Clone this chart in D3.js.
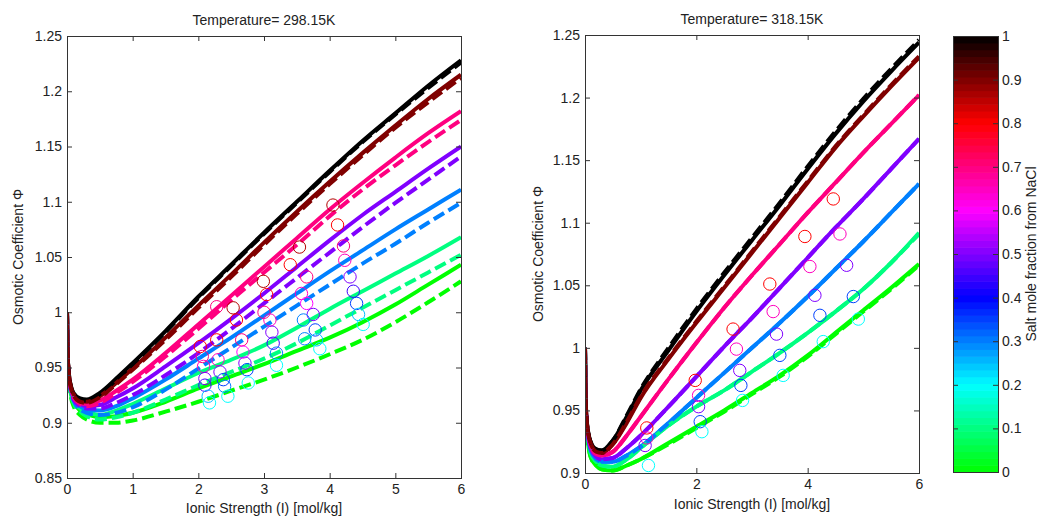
<!DOCTYPE html>
<html>
<head>
<meta charset="utf-8">
<script src="https://cdn.jsdelivr.net/npm/d3@7"></script>
<style>
  html, body { margin: 0; padding: 0; background: #fff; }
  svg { display: block; }
  text { font-family: "Liberation Sans", Arial, sans-serif; fill: #222; }
</style>
</head>
<body>
<svg id="chart" width="1038" height="517"></svg>
<script>
// ---------------- DATA ----------------
const ionicStrength = [0, 0.01, 0.03, 0.06, 0.1, 0.2, 0.3, 0.5, 0.75, 1, 1.5, 2, 2.5, 3, 3.5, 4, 4.5, 5, 5.5, 6];
const fractions = [0, 0.1, 0.3, 0.5, 0.7, 1.0, 0.9];   // salt mole fraction from NaCl (draw order)

// T = 298.15 K, model (solid)
const L_solid_0   = [1.000, 0.957, 0.937, 0.926, 0.919, 0.911, 0.908, 0.905, 0.906, 0.909, 0.919, 0.931, 0.942, 0.953, 0.965, 0.977, 0.991, 1.007, 1.025, 1.043];
const L_solid_01  = [1.000, 0.958, 0.938, 0.927, 0.920, 0.913, 0.910, 0.907, 0.911, 0.917, 0.931, 0.945, 0.957, 0.970, 0.986, 1.003, 1.019, 1.035, 1.051, 1.068];
const L_solid_03  = [1.000, 0.959, 0.940, 0.929, 0.922, 0.915, 0.912, 0.911, 0.915, 0.922, 0.939, 0.958, 0.977, 0.997, 1.017, 1.037, 1.056, 1.075, 1.093, 1.111];
const L_solid_05  = [1.000, 0.960, 0.941, 0.930, 0.923, 0.917, 0.915, 0.916, 0.923, 0.931, 0.951, 0.972, 0.994, 1.017, 1.041, 1.065, 1.088, 1.109, 1.130, 1.150];
const L_solid_07  = [1.000, 0.960, 0.942, 0.931, 0.924, 0.918, 0.917, 0.920, 0.929, 0.939, 0.963, 0.989, 1.015, 1.041, 1.067, 1.093, 1.117, 1.140, 1.162, 1.182];
const L_solid_10  = [1.000, 0.962, 0.944, 0.933, 0.927, 0.922, 0.921, 0.927, 0.940, 0.954, 0.983, 1.014, 1.043, 1.072, 1.100, 1.128, 1.155, 1.180, 1.205, 1.228];
const L_solid_09  = [1.000, 0.961, 0.943, 0.932, 0.926, 0.920, 0.919, 0.924, 0.936, 0.949, 0.977, 1.006, 1.034, 1.063, 1.091, 1.118, 1.144, 1.169, 1.193, 1.215];
// T = 298.15 K, model (dashed)
const L_dash_0    = [1.000, 0.956, 0.935, 0.923, 0.915, 0.907, 0.903, 0.900, 0.900, 0.902, 0.910, 0.919, 0.929, 0.939, 0.950, 0.962, 0.975, 0.991, 1.009, 1.028];
const L_dash_01   = [1.000, 0.957, 0.937, 0.925, 0.918, 0.910, 0.906, 0.903, 0.905, 0.909, 0.921, 0.934, 0.946, 0.958, 0.972, 0.988, 1.004, 1.020, 1.036, 1.052];
const L_dash_03   = [1.000, 0.958, 0.939, 0.928, 0.920, 0.912, 0.909, 0.907, 0.909, 0.914, 0.930, 0.949, 0.968, 0.987, 1.006, 1.025, 1.044, 1.062, 1.081, 1.099];
const L_dash_05   = [1.000, 0.959, 0.940, 0.929, 0.921, 0.915, 0.913, 0.913, 0.918, 0.925, 0.943, 0.963, 0.985, 1.008, 1.031, 1.054, 1.077, 1.099, 1.120, 1.141];
const L_dash_07   = [1.000, 0.960, 0.941, 0.930, 0.923, 0.917, 0.915, 0.918, 0.927, 0.937, 0.960, 0.985, 1.011, 1.036, 1.061, 1.087, 1.111, 1.133, 1.154, 1.174];
const L_dash_10   = [1.000, 0.962, 0.944, 0.933, 0.926, 0.921, 0.920, 0.926, 0.939, 0.953, 0.982, 1.013, 1.042, 1.071, 1.099, 1.127, 1.154, 1.179, 1.203, 1.226];
const L_dash_09   = [1.000, 0.961, 0.943, 0.932, 0.925, 0.919, 0.918, 0.923, 0.935, 0.948, 0.975, 1.004, 1.032, 1.061, 1.089, 1.116, 1.142, 1.167, 1.190, 1.212];

// T = 318.15 K, model (solid)
const R_solid_0   = [1.000, 0.956, 0.934, 0.922, 0.913, 0.906, 0.903, 0.902, 0.906, 0.911, 0.924, 0.937, 0.950, 0.964, 0.978, 0.994, 1.012, 1.030, 1.048, 1.067];
const R_solid_01  = [1.000, 0.957, 0.936, 0.925, 0.916, 0.909, 0.906, 0.905, 0.911, 0.920, 0.938, 0.953, 0.966, 0.981, 0.996, 1.012, 1.029, 1.047, 1.068, 1.092];
const R_solid_03  = [1.000, 0.958, 0.938, 0.927, 0.918, 0.911, 0.909, 0.909, 0.914, 0.921, 0.940, 0.960, 0.980, 1.000, 1.020, 1.041, 1.063, 1.085, 1.108, 1.131];
const R_solid_05  = [1.000, 0.959, 0.940, 0.928, 0.920, 0.913, 0.911, 0.912, 0.920, 0.930, 0.953, 0.977, 1.001, 1.024, 1.048, 1.072, 1.096, 1.119, 1.143, 1.167];
const R_solid_07  = [1.000, 0.960, 0.941, 0.930, 0.922, 0.915, 0.914, 0.917, 0.930, 0.945, 0.975, 1.004, 1.032, 1.058, 1.083, 1.108, 1.132, 1.156, 1.179, 1.202];
const R_solid_10  = [1.000, 0.962, 0.943, 0.932, 0.925, 0.919, 0.918, 0.926, 0.945, 0.966, 0.998, 1.029, 1.058, 1.086, 1.114, 1.143, 1.171, 1.197, 1.221, 1.244];
const R_solid_09  = [1.000, 0.961, 0.942, 0.931, 0.924, 0.917, 0.916, 0.923, 0.940, 0.960, 0.991, 1.020, 1.048, 1.076, 1.104, 1.132, 1.160, 1.185, 1.209, 1.232];
// T = 318.15 K, model (dashed)
const R_dash_0    = [1.000, 0.956, 0.934, 0.922, 0.913, 0.906, 0.903, 0.902, 0.906, 0.911, 0.923, 0.936, 0.949, 0.963, 0.977, 0.993, 1.011, 1.029, 1.047, 1.066];
const R_dash_01   = [1.000, 0.957, 0.936, 0.925, 0.916, 0.909, 0.906, 0.905, 0.911, 0.920, 0.938, 0.953, 0.966, 0.981, 0.996, 1.012, 1.029, 1.047, 1.068, 1.091];
const R_dash_03   = [1.000, 0.958, 0.938, 0.927, 0.918, 0.911, 0.909, 0.909, 0.914, 0.921, 0.940, 0.960, 0.980, 1.000, 1.020, 1.041, 1.063, 1.085, 1.108, 1.131];
const R_dash_05   = [1.000, 0.959, 0.940, 0.928, 0.920, 0.913, 0.911, 0.912, 0.920, 0.930, 0.953, 0.977, 1.001, 1.024, 1.048, 1.072, 1.096, 1.119, 1.143, 1.167];
const R_dash_07   = [1.000, 0.960, 0.941, 0.930, 0.922, 0.915, 0.914, 0.917, 0.930, 0.945, 0.975, 1.004, 1.032, 1.058, 1.083, 1.108, 1.132, 1.156, 1.179, 1.202];
const R_dash_10   = [1.000, 0.962, 0.943, 0.932, 0.925, 0.919, 0.918, 0.926, 0.946, 0.967, 1.000, 1.031, 1.060, 1.088, 1.116, 1.145, 1.173, 1.199, 1.223, 1.246];
const R_dash_09   = [1.000, 0.961, 0.942, 0.931, 0.924, 0.917, 0.916, 0.923, 0.941, 0.961, 0.992, 1.021, 1.049, 1.077, 1.105, 1.133, 1.161, 1.186, 1.210, 1.233];

// experimental points: ionic strength, osmotic coefficient, NaCl salt fraction
const L_expI    = [2.03, 2.06, 2.08, 2.10, 2.10, 2.15, 2.17,  2.28, 2.28, 2.30, 2.33, 2.38, 2.40, 2.45,  2.53, 2.58, 2.66, 2.68, 2.71, 2.74, 2.76,  2.99, 3.04, 3.00, 3.09, 3.12, 3.14, 3.19, 3.19,  3.54, 3.40, 3.65, 3.57, 3.65, 3.75, 3.60, 3.78, 3.62, 3.80, 3.85,  4.05, 4.12, 4.21, 4.23, 4.31, 4.36, 4.41, 4.44, 4.51];
const L_expPhi  = [0.969, 0.960, 0.951, 0.940, 0.934, 0.924, 0.918,  1.005, 0.975, 0.957, 0.946, 0.939, 0.933, 0.924,  1.004, 0.993, 0.975, 0.964, 0.954, 0.948, 0.936,  1.028, 1.016, 1.000, 0.993, 0.982, 0.972, 0.963, 0.952,  1.059, 1.043, 1.032, 1.017, 1.008, 0.998, 0.993, 0.984, 0.976, 0.975, 0.967,  1.097, 1.079, 1.060, 1.047, 1.032, 1.019, 1.008, 0.998, 0.989];
const L_expX    = [0.8, 0.7, 0.65, 0.5, 0.45, 0.25, 0.2,  0.7, 0.8, 0.65, 0.5, 0.35, 0.3, 0.2,  0.86, 0.8, 0.7, 0.6, 0.5, 0.35, 0.2,  0.86, 0.8, 0.7, 0.65, 0.5, 0.45, 0.3, 0.2,  0.86, 0.8, 0.7, 0.65, 0.6, 0.5, 0.3, 0.35, 0.3, 0.25, 0.2,  0.86, 0.8, 0.7, 0.65, 0.5, 0.45, 0.35, 0.25, 0.2];

const R_expI    = [4.46, 3.95, 4.58, 4.04, 4.70, 3.32, 4.13, 4.82, 3.38, 4.22, 4.91, 2.66, 3.44, 2.72, 3.50, 4.28, 2.78, 2.80, 3.56, 2.83, 1.98, 2.04, 2.04, 2.07, 2.10, 1.11, 1.11, 1.08, 1.14];
const R_expPhi  = [1.119, 1.089, 1.091, 1.065, 1.066, 1.051, 1.042, 1.041, 1.029, 1.026, 1.023, 1.015, 1.011, 0.999, 0.994, 1.005, 0.982, 0.970, 0.978, 0.958, 0.974, 0.962, 0.953, 0.941, 0.933, 0.936, 0.928, 0.922, 0.906];
const R_expX    = [0.8, 0.8, 0.65, 0.65, 0.5, 0.8, 0.5, 0.35, 0.65, 0.35, 0.2, 0.8, 0.5, 0.65, 0.35, 0.2, 0.5, 0.35, 0.2, 0.2, 0.8, 0.65, 0.5, 0.35, 0.2, 0.8, 0.65, 0.5, 0.2];

const L_yTicks = [0.85, 0.9, 0.95, 1, 1.05, 1.1, 1.15, 1.2, 1.25];
const L_yTickLabels = ["0.85", "0.9", "0.95", "1", "1.05", "1.1", "1.15", "1.2", "1.25"];
const L_xTicks = [0, 1, 2, 3, 4, 5, 6];
const R_yTicks = [0.9, 0.95, 1, 1.05, 1.1, 1.15, 1.2, 1.25];
const R_yTickLabels = ["0.9", "0.95", "1", "1.05", "1.1", "1.15", "1.2", "1.25"];
const R_xTicks = [0, 2, 4, 6];
const cbTicks = [0, 0.1, 0.2, 0.3, 0.4, 0.5, 0.6, 0.7, 0.8, 0.9, 1];
const cbTickLabels = ["0", "0.1", "0.2", "0.3", "0.4", "0.5", "0.6", "0.7", "0.8", "0.9", "1"];
const cmapStops = [0, 0.2, 0.4, 0.6, 0.8, 1.0];
const cmapColors = ["#00ff00", "#00ffff", "#0000ff", "#ff00ff", "#ff0000", "#000000"];

const titles = ["Temperature= 298.15K", "Temperature= 318.15K"];
const xLabel = "Ionic Strength (I) [mol/kg]";
const yLabel = "Osmotic Coefficient \u03A6";
const cbLabel = "Salt mole fraction from NaCl";

// ---------------- DRAW ----------------
const svg = d3.select("#chart");
const cmap = d3.scaleLinear().domain(cmapStops).range(cmapColors).interpolate(d3.interpolateRgb).clamp(true);
const FONT = 14;

const leftSolid = [L_solid_0, L_solid_01, L_solid_03, L_solid_05, L_solid_07, L_solid_10, L_solid_09];
const leftDash  = [L_dash_0, L_dash_01, L_dash_03, L_dash_05, L_dash_07, L_dash_10, L_dash_09];
const rightSolid = [R_solid_0, R_solid_01, R_solid_03, R_solid_05, R_solid_07, R_solid_10, R_solid_09];
const rightDash  = [R_dash_0, R_dash_01, R_dash_03, R_dash_05, R_dash_07, R_dash_10, R_dash_09];

function panel(cfg) {
  const x = d3.scaleLinear().domain([0, 6]).range([cfg.x0, cfg.x1]);
  const y = d3.scaleLinear().domain(cfg.yDom).range([cfg.y1, cfg.y0]);
  const g = svg.append("g");
  const clipId = "clip" + cfg.id;
  svg.append("clipPath").attr("id", clipId).append("rect")
    .attr("x", cfg.x0).attr("y", cfg.y0).attr("width", cfg.x1 - cfg.x0).attr("height", cfg.y1 - cfg.y0);

  const plot = g.append("g").attr("clip-path", `url(#${clipId})`);
  const line = d3.line().x((d, i) => x(ionicStrength[i])).y(d => y(d)).curve(d3.curveMonotoneX);

  fractions.forEach((f, k) => {
    plot.append("path").attr("d", line(cfg.solid[k]))
      .attr("fill", "none").attr("stroke", cmap(f)).attr("stroke-width", 4)
      .attr("stroke-linejoin", "round");
  });
  fractions.forEach((f, k) => {
    plot.append("path").attr("d", line(cfg.dash[k]))
      .attr("fill", "none").attr("stroke", cmap(f)).attr("stroke-width", 4)
      .attr("stroke-dasharray", "12,5");
  });
  // experimental points
  plot.selectAll("circle.exp").data(cfg.expI.map((v, i) => i)).join("circle")
    .attr("class", "exp")
    .attr("cx", i => x(cfg.expI[i])).attr("cy", i => y(cfg.expPhi[i]))
    .attr("r", 6.2).attr("fill", "none").attr("stroke", i => cmap(cfg.expX[i])).attr("stroke-width", 1);

  // axes (inward ticks, box)
  const axCol = "#333";
  const fmt = v => cfg.yLabels[cfg.yTicks.indexOf(v)];
  const axB = g.append("g").attr("transform", `translate(0,${cfg.y1})`)
    .call(d3.axisBottom(x).tickValues(cfg.xTicks).tickFormat(d3.format("d")).tickSizeInner(-5).tickSizeOuter(0).tickPadding(6));
  const axT = g.append("g").attr("transform", `translate(0,${cfg.y0})`)
    .call(d3.axisTop(x).tickValues(cfg.xTicks).tickFormat("").tickSizeInner(-5).tickSizeOuter(0));
  const axL = g.append("g").attr("transform", `translate(${cfg.x0},0)`)
    .call(d3.axisLeft(y).tickValues(cfg.yTicks).tickFormat(fmt).tickSizeInner(-5).tickSizeOuter(0).tickPadding(5));
  const axR = g.append("g").attr("transform", `translate(${cfg.x1},0)`)
    .call(d3.axisRight(y).tickValues(cfg.yTicks).tickFormat("").tickSizeInner(-5).tickSizeOuter(0));
  [axB, axT, axL, axR].forEach(a => {
    a.select(".domain").remove();
    a.selectAll("line").attr("stroke", axCol);
    a.selectAll("text").attr("font-size", FONT).attr("fill", "#222")
      .attr("font-family", '"Liberation Sans", Arial, sans-serif');
  });
  g.append("rect").attr("x", cfg.x0).attr("y", cfg.y0)
    .attr("width", cfg.x1 - cfg.x0).attr("height", cfg.y1 - cfg.y0)
    .attr("fill", "none").attr("stroke", axCol).attr("stroke-width", 1).attr("shape-rendering", "crispEdges");

  g.append("text").attr("x", (cfg.x0 + cfg.x1) / 2).attr("y", cfg.titleY)
    .attr("text-anchor", "middle").attr("font-size", 14).text(cfg.title);
  g.append("text").attr("x", (cfg.x0 + cfg.x1) / 2).attr("y", cfg.xLabY)
    .attr("text-anchor", "middle").attr("font-size", FONT).text(xLabel);
  g.append("text").attr("transform", `translate(${cfg.yLabX},${(cfg.y0 + cfg.y1) / 2}) rotate(-90)`)
    .attr("text-anchor", "middle").attr("font-size", FONT).text(yLabel);
}

panel({ id: "L", x0: 67, x1: 461, y0: 36, y1: 478, yDom: [0.85, 1.25],
  yTicks: L_yTicks, yLabels: L_yTickLabels, xTicks: L_xTicks,
  solid: leftSolid, dash: leftDash, expI: L_expI, expPhi: L_expPhi, expX: L_expX,
  title: titles[0], titleY: 25, xLabY: 513, yLabX: 23 });

panel({ id: "R", x0: 585, x1: 919, y0: 35, y1: 473, yDom: [0.9, 1.25],
  yTicks: R_yTicks, yLabels: R_yTickLabels, xTicks: R_xTicks,
  solid: rightSolid, dash: rightDash, expI: R_expI, expPhi: R_expPhi, expX: R_expX,
  title: titles[1], titleY: 24, xLabY: 509, yLabX: 543 });

// ---------------- COLORBAR ----------------
const cb = { x0: 953, x1: 998, y0: 36, y1: 472 };
const cbY = d3.scaleLinear().domain([0, 1]).range([cb.y1, cb.y0]);
const nBands = 64;
const bands = d3.range(nBands);
svg.append("g").selectAll("rect").data(bands).join("rect")
  .attr("x", cb.x0).attr("width", cb.x1 - cb.x0)
  .attr("y", k => cbY((k + 1) / nBands)).attr("height", k => cbY(k / nBands) - cbY((k + 1) / nBands) + 0.6)
  .attr("fill", k => cmap((k + 0.5) / nBands));
const cbAxR = svg.append("g").attr("transform", `translate(${cb.x1},0)`)
  .call(d3.axisRight(cbY).tickValues(cbTicks).tickFormat((v, i) => cbTickLabels[i]).tickSizeInner(-5).tickSizeOuter(0).tickPadding(4));
const cbAxL = svg.append("g").attr("transform", `translate(${cb.x0},0)`)
  .call(d3.axisLeft(cbY).tickValues(cbTicks).tickFormat("").tickSizeInner(-5).tickSizeOuter(0));
[cbAxR, cbAxL].forEach(a => {
  a.select(".domain").remove();
  a.selectAll("line").attr("stroke", "#333");
  a.selectAll("text").attr("font-size", FONT).attr("fill", "#222")
    .attr("font-family", '"Liberation Sans", Arial, sans-serif');
});
svg.append("rect").attr("x", cb.x0).attr("y", cb.y0).attr("width", cb.x1 - cb.x0).attr("height", cb.y1 - cb.y0)
  .attr("fill", "none").attr("stroke", "#333").attr("shape-rendering", "crispEdges");
svg.append("text").attr("transform", `translate(1036,${(cb.y0 + cb.y1) / 2}) rotate(-90)`)
  .attr("text-anchor", "middle").attr("font-size", FONT).text(cbLabel);
</script>
</body>
</html>
